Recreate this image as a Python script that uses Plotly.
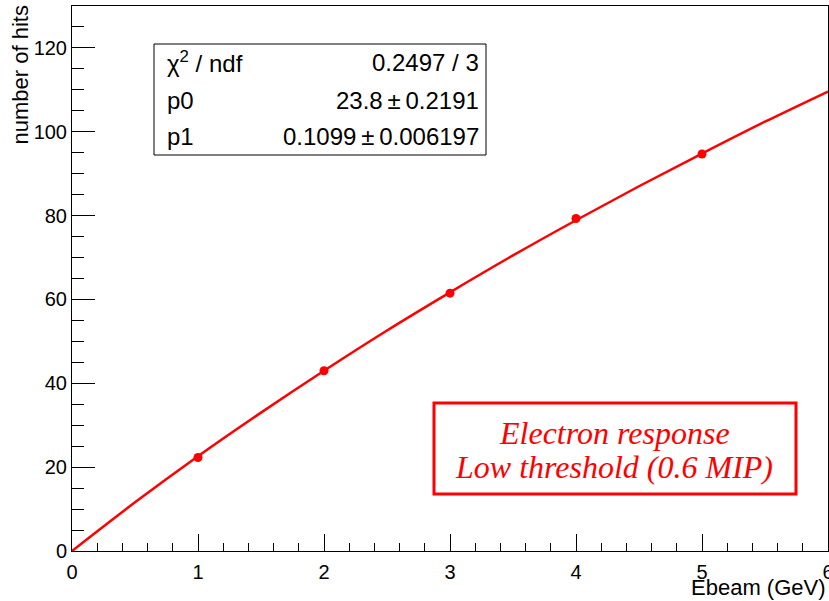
import plotly.graph_objects as go

# data points
ebeam = [1, 2, 3, 4, 5]
hits = [22.3, 43.0, 61.5, 79.3, 94.7]

# fitted curve values
fit_x = [0, 0.5, 1, 1.5, 2, 2.5, 3, 3.5, 4, 4.5, 5, 5.5, 6]
fit_y = [0, 11.6, 22.6, 33.0, 43.0, 52.6, 61.7, 70.5, 78.9, 87.0, 94.8, 102.4, 109.6]

stat_names = ["χ<sup>2</sup> / ndf", "p0", "p1"]
stat_values = ["0.2497 / 3", "23.8\u2009±\u20090.2191", "0.1099\u2009±\u20090.006197"]

W, H = 829, 601
L, R, T, B = 72, 1, 6, 50
pw, ph = W - L - R, H - T - B

def px(x):
    return (x - L) / pw

def py(y):
    return (H - B - y) / ph

RED = "#ff0000"
SANS = "Liberation Sans, Arial"
fig = go.Figure()
fig.add_trace(go.Scatter(x=fit_x, y=fit_y, mode="lines", line=dict(color=RED, width=2.5, shape="spline"),
                         showlegend=False, hoverinfo="skip"))
fig.add_trace(go.Scatter(x=ebeam, y=hits, mode="markers", marker=dict(color=RED, size=9),
                         showlegend=False))

font = dict(family=SANS, size=20, color="black")
fig.update_layout(
    width=W, height=H, margin=dict(l=L, r=R, t=T, b=B, autoexpand=False),
    paper_bgcolor="white", plot_bgcolor="white",
    font=font,
    xaxis=dict(range=[0, 6], dtick=1, ticks="inside", ticklen=17, tickcolor="black",
               showgrid=False, zeroline=False, showline=True, linecolor="black", linewidth=1,
               mirror=True, tickfont=font, ticklabeloverflow="allow", automargin=False,
               ticklabelstandoff=3,
               minor=dict(dtick=0.2, ticks="inside", ticklen=8, tickcolor="black")),
    yaxis=dict(range=[0, 130], dtick=20, ticks="inside", ticklen=23, tickcolor="black",
               showgrid=False, zeroline=False, showline=True, linecolor="black", linewidth=1,
               mirror=True, tickfont=font, ticklabeloverflow="allow", automargin=False,
               minor=dict(dtick=5, ticks="inside", ticklen=12, tickcolor="black")),
)

# axis titles (ROOT style, at the end of axes)
fig.add_annotation(text="Ebeam (GeV)", xref="paper", yref="paper", x=px(828), y=py(587),
                   xanchor="right", yanchor="middle", showarrow=False,
                   font=dict(family=SANS, size=22, color="black"))
fig.add_annotation(text="number of hits", xref="paper", yref="paper", x=px(20), y=py(4),
                   xanchor="center", yanchor="top", textangle=-90, showarrow=False,
                   font=dict(family=SANS, size=22, color="black"))

# stats box
fig.add_shape(type="rect", xref="paper", yref="paper", x0=px(154), x1=px(486), y0=py(155), y1=py(44),
              line=dict(color="black", width=1), fillcolor="white", layer="above")
rows_y = [62, 100, 137]
for name, val, yy in zip(stat_names, stat_values, rows_y):
    fig.add_annotation(text=name, xref="paper", yref="paper", x=px(165), y=py(yy),
                       xanchor="left", yanchor="middle", showarrow=False,
                       font=dict(family=SANS, size=24, color="black"))
    fig.add_annotation(text=val, xref="paper", yref="paper", x=px(481), y=py(yy),
                       xanchor="right", yanchor="middle", showarrow=False,
                       font=dict(family=SANS, size=24, color="black"))

# label box
fig.add_shape(type="rect", xref="paper", yref="paper", x0=px(434), x1=px(796), y0=py(494), y1=py(403),
              line=dict(color=RED, width=3), fillcolor="white", layer="above")
for txt, yy in [("Electron response", 433), ("Low threshold (0.6 MIP)", 467)]:
    fig.add_annotation(text="<i>" + txt + "</i>", xref="paper", yref="paper", x=px(614), y=py(yy),
                       xanchor="center", yanchor="middle", showarrow=False,
                       font=dict(family="Liberation Serif, Times New Roman", size=32, color=RED))

fig.write_html("out.html")
